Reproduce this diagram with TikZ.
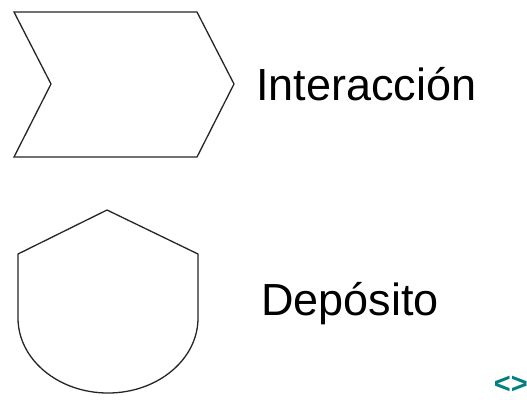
\documentclass[tikz,border=0pt]{standalone}
\usepackage{fontspec}
\setmainfont{Liberation Sans}
\definecolor{tealmark}{RGB}{0,128,128}
\begin{document}
\begin{tikzpicture}[x=1pt,y=-1pt,
  shapeline/.style={draw=black!85,line width=1.3pt,line join=miter},
  label/.style={font=\fontsize{45}{54}\selectfont,inner sep=0pt,anchor=base west}]
\useasboundingbox (0,0) rectangle (527,399);
\fill[white] (0,0) rectangle (527,399);
% Interaccion shape
\draw[shapeline] (14,12) -- (197,12) -- (234,84) -- (197,157) -- (14,157) -- (51,84) -- cycle;
% Deposito shape
\draw[shapeline] (18,318) -- (18,254) -- (107,210) -- (198,254) -- (198,318)
  arc[start angle=0,end angle=180,x radius=90,y radius=75];
\node[label] (inter) at (256,100) {Interacción};
\node[label] (depo) at (261,315) {Depósito};
\node[font=\bfseries\fontsize{29}{32}\selectfont,text=tealmark,inner sep=0pt,anchor=base east] (nav) at (528,393) {<>};
\end{tikzpicture}
\end{document}
